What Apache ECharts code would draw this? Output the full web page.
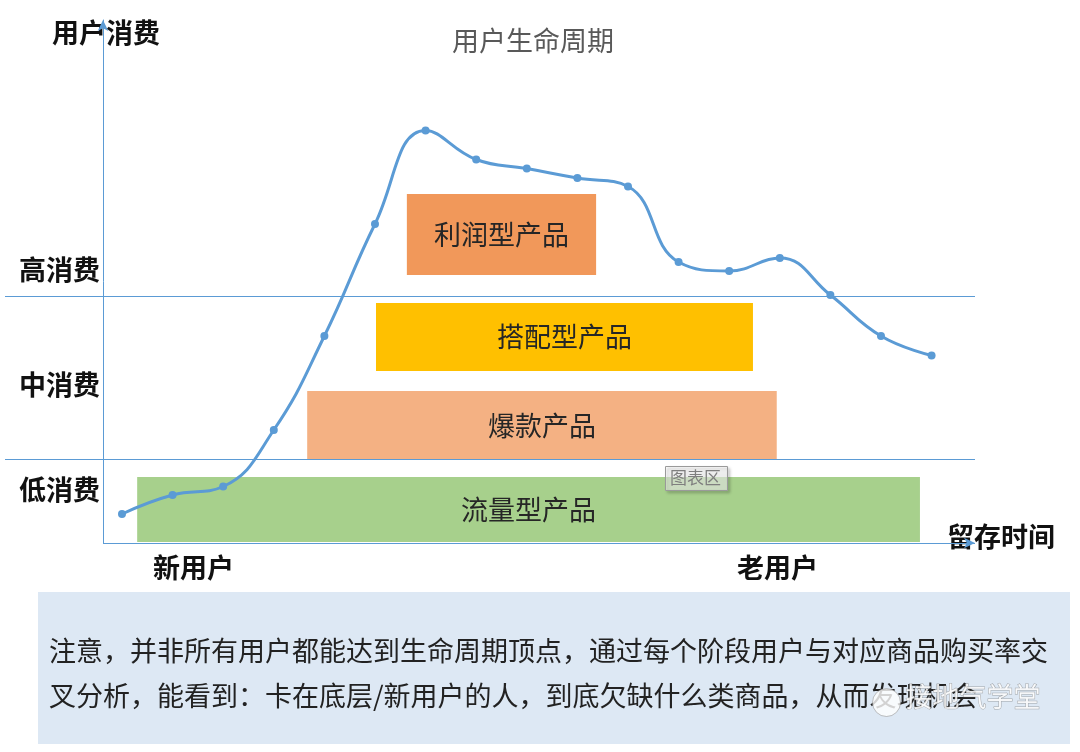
<!DOCTYPE html>
<html>
<head>
<meta charset="utf-8">
<script src="https://cdn.jsdelivr.net/npm/echarts@6/dist/echarts.min.js"></script>
<style>
  html, body { margin: 0; padding: 0; background: #fff; }
  #main { width: 1080px; height: 752px; }
</style>
</head>
<body>
<div id="main"></div>
<script>
// 留存时间 (横轴位置) 与 用户消费
var time_arr = [1, 2, 3, 4, 5, 6, 7, 8, 9, 10, 11, 12, 13, 14, 15, 16, 17];
var spend_arr = [5.8, 9.6, 11.3, 22.6, 41.4, 63.8, 82.5, 76.7, 74.9, 73.0, 71.3, 56.2, 54.4, 57.0, 49.6, 41.4, 37.5];

// 消费分层线
var level_lines = [49.3, 16.8];

// 产品区块
var block_names = ['利润型产品', '搭配型产品', '爆款产品', '流量型产品'];
var block_x = [[6.63, 10.37], [6.02, 13.47], [4.66, 13.94], [1.30, 16.77]];
var block_y = [[53.6, 69.8], [34.4, 48.0], [16.6, 30.4], [0.2, 13.2]];
var block_colors = ['#f1985a', '#ffc000', '#f4b183', 'rgba(160,204,130,0.92)'];

var level_labels = ['高消费', '中消费', '低消费'];
var note_lines = [
    '注意，并非所有用户都能达到生命周期顶点，通过每个阶段用户与对应商品购买率交',
    '叉分析，能看到：卡在底层/新用户的人，到底欠缺什么类商品，从而发现机会'
];

var lineData = [];
for (var i = 0; i < time_arr.length; i++) {
    lineData.push([time_arr[i], spend_arr[i]]);
}

var areaData = [];
for (var j = 0; j < block_names.length; j++) {
    areaData.push([
        {name: block_names[j], xAxis: block_x[j][0], yAxis: block_y[j][0],
         itemStyle: {color: block_colors[j]}},
        {xAxis: block_x[j][1], yAxis: block_y[j][1]}
    ]);
}

var cnFont = '"Noto Sans CJK SC", "Microsoft YaHei", sans-serif';
var blue = '#5b9bd5';

var myChart = echarts.init(document.getElementById('main'));
var option = {
    animation: false,
    textStyle: {fontFamily: cnFont},
    title: {
        text: '用户生命周期',
        left: 528,
        top: 22,
        textAlign: 'center',
        textStyle: {fontFamily: cnFont, fontSize: 27, fontWeight: 'normal', color: '#595959'}
    },
    grid: {left: 5, right: 105, top: 20, bottom: 209},
    xAxis: {
        type: 'value',
        min: -1.312,
        max: 17.858,
        axisLine: {show: false},
        axisTick: {show: false},
        axisLabel: {show: false},
        splitLine: {show: false}
    },
    yAxis: {
        type: 'value',
        min: 0,
        max: 104.6,
        offset: -98,
        axisLine: {
            show: true,
            onZero: false,
            symbol: ['none', 'arrow'],
            symbolSize: [8, 11],
            lineStyle: {color: blue, width: 1}
        },
        axisTick: {show: false},
        axisLabel: {show: false},
        splitLine: {show: false}
    },
    series: [
        {
            // 产品区块
            type: 'line',
            data: [],
            z: 3,
            silent: true,
            markArea: {
                silent: true,
                label: {
                    show: true,
                    position: 'inside',
                    fontFamily: cnFont,
                    fontSize: 27,
                    color: '#262626'
                },
                data: areaData
            }
        },
        {
            type: 'line',
            data: lineData,
            smooth: 0.45,
            z: 2,
            symbol: 'circle',
            symbolSize: 8,
            lineStyle: {color: blue, width: 3},
            itemStyle: {color: blue},
            markLine: {
                silent: true,
                symbol: 'none',
                label: {show: false},
                lineStyle: {color: blue, width: 1, type: 'solid'},
                data: [
                    {yAxis: level_lines[0]},
                    {yAxis: level_lines[1]},
                    [
                        {coord: [0.625, 0], symbol: 'none'},
                        {coord: [17.858, 0], symbol: 'arrow', symbolSize: [8, 11]}
                    ]
                ]
            }
        }
    ],
    graphic: [
        {type: 'text', left: 52, top: 19, style: {text: '用户消费', font: 'bold 27px ' + cnFont, fill: '#111'}},
        {type: 'text', left: 19, top: 256, style: {text: level_labels[0], font: 'bold 27px ' + cnFont, fill: '#111'}},
        {type: 'text', left: 19, top: 371, style: {text: level_labels[1], font: 'bold 27px ' + cnFont, fill: '#111'}},
        {type: 'text', left: 19, top: 476, style: {text: level_labels[2], font: 'bold 27px ' + cnFont, fill: '#111'}},
        {type: 'text', left: 153, top: 554, style: {text: '新用户', font: 'bold 27px ' + cnFont, fill: '#111'}},
        {type: 'text', left: 737, top: 554, style: {text: '老用户', font: 'bold 27px ' + cnFont, fill: '#111'}},
        {type: 'text', left: 947, top: 523, style: {text: '留存时间', font: 'bold 27px ' + cnFont, fill: '#111'}},
        // 图表区 提示框
        {
            type: 'rect', left: 665, top: 466, z: 20,
            shape: {width: 62, height: 24},
            style: {fill: 'rgba(255,255,255,0.55)', stroke: '#9a9a9a', lineWidth: 1,
                    shadowBlur: 3, shadowOffsetX: 2, shadowOffsetY: 2, shadowColor: 'rgba(0,0,0,0.3)'}
        },
        {type: 'text', left: 670, top: 469, z: 21, style: {text: '图表区', font: '17px ' + cnFont, fill: '#7f7f7f'}},
        // 底部说明
        {
            type: 'rect', left: 38, top: 592, z: 0,
            shape: {width: 1032, height: 152},
            style: {fill: '#dde8f4'}
        },
        {type: 'text', left: 49, top: 637, z: 1, style: {text: note_lines[0], font: '27px ' + cnFont, fill: '#222'}},
        {type: 'text', left: 49, top: 682, z: 1, style: {text: note_lines[1], font: '27px ' + cnFont, fill: '#222'}},
        // 水印
        {type: 'circle', left: 872, top: 688, z: 5,
         shape: {r: 14},
         style: {fill: 'rgba(255,255,255,0.8)', stroke: 'rgba(130,130,130,0.5)', lineWidth: 1}},
        {type: 'text', left: 905, top: 683, z: 5,
         style: {text: '接地气学堂', font: '27px ' + cnFont, fill: 'rgba(255,255,255,0.85)',
                 stroke: 'rgba(120,120,120,0.6)', lineWidth: 1}}
    ]
};
myChart.setOption(option);
</script>
</body>
</html>
